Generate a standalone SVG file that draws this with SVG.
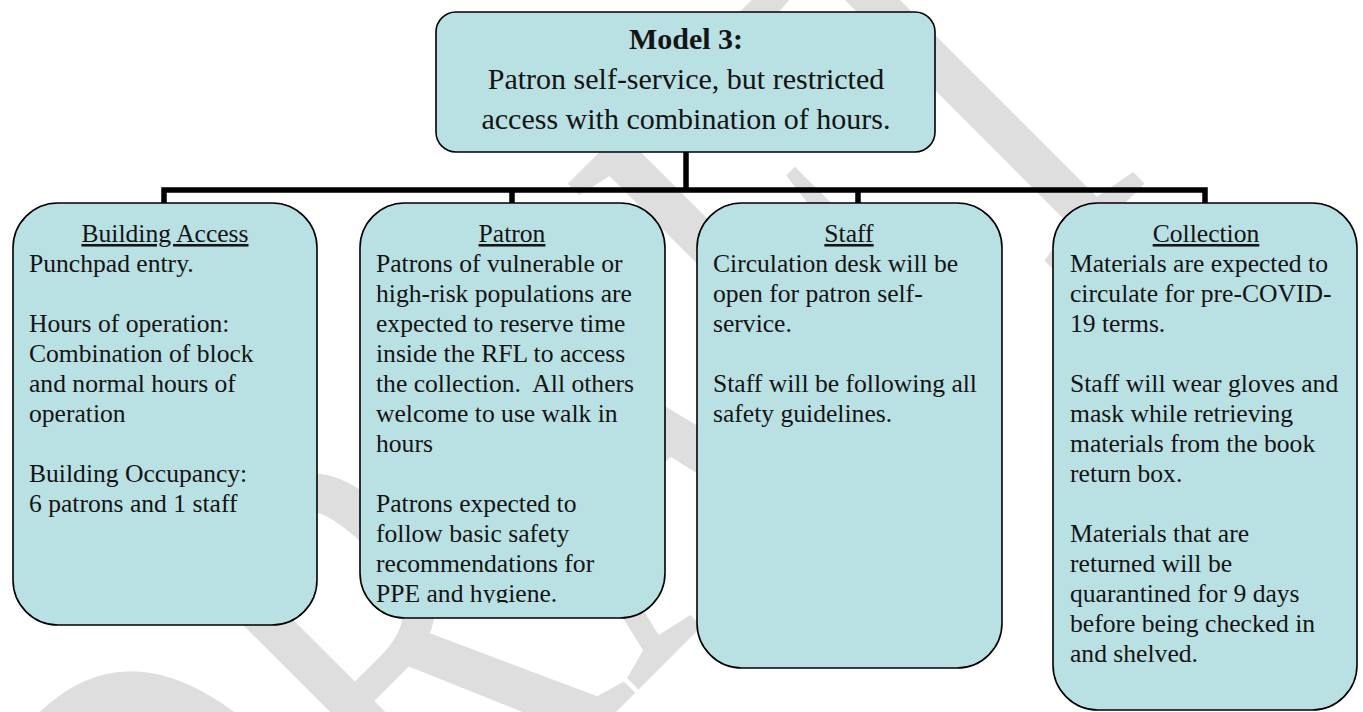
<svg xmlns="http://www.w3.org/2000/svg" width="1363" height="712" viewBox="0 0 1363 712">
<style>
.box{fill:#b9e0e3;stroke:#000;stroke-width:1.6}
.t{font-family:"Liberation Serif","Times New Roman",serif;font-size:25.6px;fill:#141414}
.h{text-anchor:middle;text-decoration:underline}
.title{font-family:"Liberation Serif","Times New Roman",serif;font-size:30px;fill:#141414;text-anchor:middle}
.wm{font-family:"Liberation Serif","Times New Roman",serif;font-size:415px;fill:#dedede}
.con{fill:none;stroke:#000;stroke-width:5.5;stroke-linejoin:miter}
</style>
<defs>
<clipPath id="clipPatron"><rect x="360" y="203" width="305" height="400"/></clipPath>
</defs>
<rect width="1363" height="712" fill="#fff"/>
<text id="watermark" class="wm" transform="translate(228 1100) rotate(-45) scale(1 1.5)">DRAFT</text>
<g id="connectors">
<path class="con" d="M686 152 V190"/>
<path class="con" d="M164 204 V190 H1205 V204"/>
<path class="con" d="M512 190 V204"/>
<path class="con" d="M858 190 V204"/>
</g>
<g id="node-model">
<rect class="box" x="436" y="12" width="499" height="140" rx="20"/>
<text class="title" x="686" y="49" font-weight="bold">Model 3:</text>
<text class="title" x="686" y="89">Patron self-service, but restricted</text>
<text class="title" x="686" y="129">access with combination of hours.</text>
</g>
<g id="node-building">
<rect class="box" x="13" y="203" width="304" height="422" rx="45"/>
<text class="t h" x="165" y="242">Building Access</text>
<text class="t" x="29" y="272">Punchpad entry.</text>
<text class="t" x="29" y="332">Hours of operation:</text>
<text class="t" x="29" y="362">Combination of block</text>
<text class="t" x="29" y="392">and normal hours of</text>
<text class="t" x="29" y="422">operation</text>
<text class="t" x="29" y="482">Building Occupancy:</text>
<text class="t" x="29" y="512">6 patrons and 1 staff</text>
</g>
<g id="node-patron">
<rect class="box" x="360" y="203" width="305" height="415" rx="45"/>
<text class="t h" x="512" y="242">Patron</text>
<g clip-path="url(#clipPatron)">
<text class="t" x="376" y="272">Patrons of vulnerable or</text>
<text class="t" x="376" y="302">high-risk populations are</text>
<text class="t" x="376" y="332">expected to reserve time</text>
<text class="t" x="376" y="362">inside the RFL to access</text>
<text class="t" x="376" y="392" xml:space="preserve">the collection.  All others</text>
<text class="t" x="376" y="422">welcome to use walk in</text>
<text class="t" x="376" y="452">hours</text>
<text class="t" x="376" y="512">Patrons expected to</text>
<text class="t" x="376" y="542">follow basic safety</text>
<text class="t" x="376" y="572">recommendations for</text>
<text class="t" x="376" y="602">PPE and hygiene.</text>
</g>
</g>
<g id="node-staff">
<rect class="box" x="697" y="203" width="305" height="465" rx="45"/>
<text class="t h" x="849" y="242">Staff</text>
<text class="t" x="713" y="272">Circulation desk will be</text>
<text class="t" x="713" y="302">open for patron self-</text>
<text class="t" x="713" y="332">service.</text>
<text class="t" x="713" y="392">Staff will be following all</text>
<text class="t" x="713" y="422">safety guidelines.</text>
</g>
<g id="node-collection">
<rect class="box" x="1053" y="203" width="304" height="507" rx="45"/>
<text class="t h" x="1206" y="242">Collection</text>
<text class="t" x="1070" y="272">Materials are expected to</text>
<text class="t" x="1070" y="302">circulate for pre-COVID-</text>
<text class="t" x="1070" y="332">19 terms.</text>
<text class="t" x="1070" y="392">Staff will wear gloves and</text>
<text class="t" x="1070" y="422">mask while retrieving</text>
<text class="t" x="1070" y="452">materials from the book</text>
<text class="t" x="1070" y="482">return box.</text>
<text class="t" x="1070" y="542">Materials that are</text>
<text class="t" x="1070" y="572">returned will be</text>
<text class="t" x="1070" y="602">quarantined for 9 days</text>
<text class="t" x="1070" y="632">before being checked in</text>
<text class="t" x="1070" y="662">and shelved.</text>
</g>
</svg>
